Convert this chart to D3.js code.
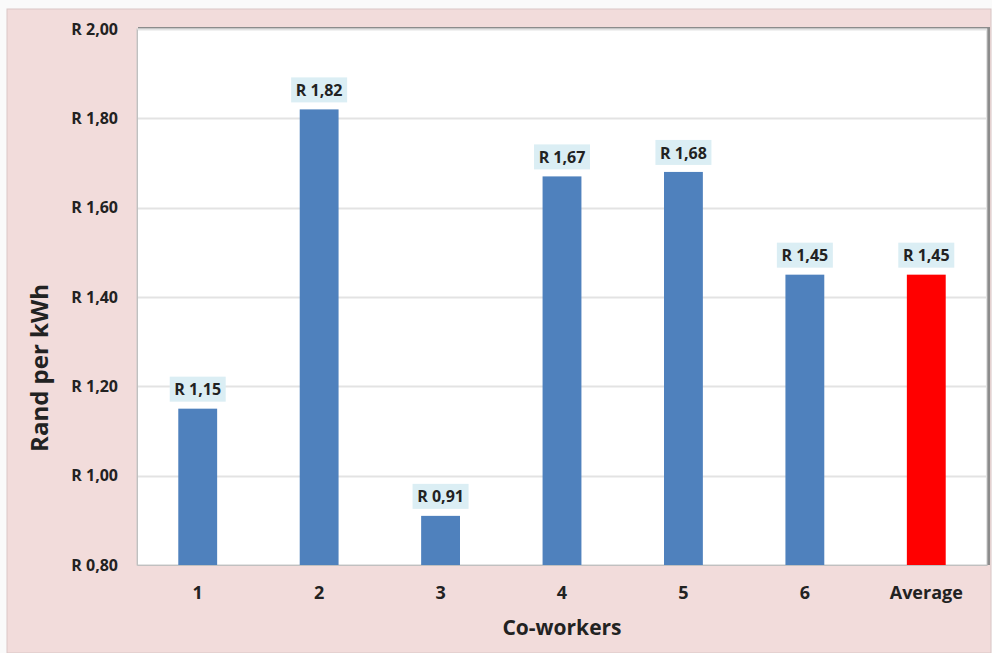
<!DOCTYPE html>
<html>
<head>
<meta charset="utf-8">
<script src="https://cdn.jsdelivr.net/npm/d3@7"></script>
<style>
  html, body { margin: 0; padding: 0; background: #ffffff; }
  svg { display: block; }
  text { font-family: "Open Sans", Lato, sans-serif; font-weight: bold; fill: #222222; }
</style>
</head>
<body>
<svg id="chart" width="992" height="653"></svg>
<script>
// Cost per kWh for each co-worker plus the group average
const categories = ["1", "2", "3", "4", "5", "6", "Average"];
const values = [1.15, 1.82, 0.91, 1.67, 1.68, 1.45, 1.45];
const barColors = ["#4f81bd", "#4f81bd", "#4f81bd", "#4f81bd", "#4f81bd", "#4f81bd", "#ff0000"];
const yTicks = [0.8, 1.0, 1.2, 1.4, 1.6, 1.8, 2.0];
const yTitle = "Rand per kWh";
const xTitle = "Co-workers";

const fmt = v => "R " + v.toFixed(2).replace(".", ",");
const FONT = '"Open Sans", Lato, sans-serif';

const svg = d3.select("#chart");
const W = 992, H = 653;
const plot = { left: 137, top: 29, right: 987, bottom: 565 };

// outer chart area
svg.append("rect").attr("x", 0).attr("y", 0).attr("width", W).attr("height", H).attr("fill", "#fafafa");
svg.append("rect").attr("x", 7).attr("y", 9).attr("width", W - 8).attr("height", H - 9)
  .attr("fill", "#f2dcdb").attr("stroke", "#d9c6c5").attr("stroke-width", 1);

const x = d3.scaleBand().domain(categories).range([plot.left, plot.right]).paddingInner(0.68).paddingOuter(0.34);
const y = d3.scaleLinear().domain([0.8, 2.0]).range([plot.bottom, plot.top]);

// plot area with soft shadow
svg.append("rect").attr("x", plot.left + 1).attr("y", plot.top - 2)
  .attr("width", plot.right - plot.left + 2).attr("height", plot.bottom - plot.top + 2)
  .attr("fill", "#8c8c8c");
svg.append("rect").attr("x", plot.left).attr("y", plot.top)
  .attr("width", plot.right - plot.left).attr("height", plot.bottom - plot.top)
  .attr("fill", "#ffffff").attr("stroke", "#c8c8c8").attr("stroke-width", 1);

// gridlines
svg.append("g").selectAll("line").data(yTicks.slice(1)).join("line")
  .attr("x1", plot.left).attr("x2", plot.right)
  .attr("y1", d => Math.round(y(d)) + 0.5).attr("y2", d => Math.round(y(d)) + 0.5)
  .attr("stroke", "#e3e3e3").attr("stroke-width", 2);

// y axis
const yAxis = svg.append("g").attr("transform", `translate(${plot.left},0)`)
  .call(d3.axisLeft(y).tickValues(yTicks).tickFormat(fmt).tickSize(0).tickPadding(19));
yAxis.select(".domain").attr("stroke", "#c0c0c0");
yAxis.selectAll("text").attr("font-size", 16).attr("fill", "#222222")
  .style("font-family", FONT).style("font-weight", "bold");

// x axis
const xAxis = svg.append("g").attr("transform", `translate(0,${plot.bottom})`)
  .call(d3.axisBottom(x).tickSize(0).tickPadding(21));
xAxis.select(".domain").attr("stroke", "#c0c0c0");
xAxis.selectAll("text").attr("font-size", 18).attr("fill", "#222222")
  .style("font-family", FONT).style("font-weight", "bold");

// bars
svg.append("g").selectAll("rect").data(values).join("rect")
  .attr("x", (d, i) => x(categories[i]))
  .attr("width", x.bandwidth())
  .attr("y", d => y(d))
  .attr("height", d => y(0.8) - y(d))
  .attr("fill", (d, i) => barColors[i]);

// value labels
const labels = svg.append("g").selectAll("g").data(values).join("g")
  .attr("transform", (d, i) => `translate(${x(categories[i]) + x.bandwidth() / 2},${y(d) - 19})`);
labels.append("rect").attr("x", -28).attr("y", -13).attr("width", 56).attr("height", 25)
  .attr("fill", "#dbeef4");
labels.append("text").attr("text-anchor", "middle").attr("dy", "0.35em")
  .attr("font-size", 16).text(d => fmt(d));

// axis titles
svg.append("text").attr("transform", `translate(48,368) rotate(-90)`)
  .attr("text-anchor", "middle").attr("font-size", 24).text(yTitle);
svg.append("text").attr("x", (plot.left + plot.right) / 2).attr("y", 635)
  .attr("text-anchor", "middle").attr("font-size", 21).text(xTitle);
</script>
</body>
</html>
